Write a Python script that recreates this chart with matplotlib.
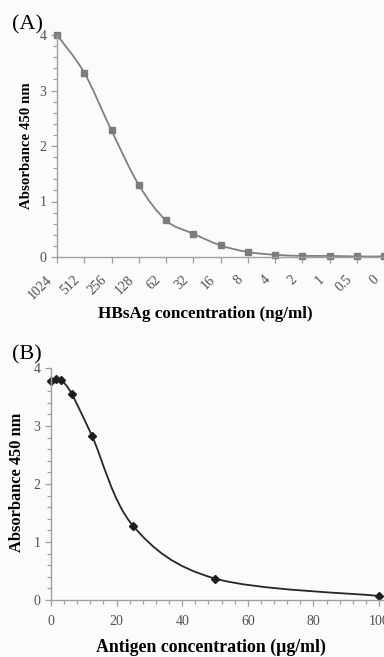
import numpy as np
import matplotlib
matplotlib.use("Agg")
import matplotlib.pyplot as plt
from matplotlib.path import Path
from matplotlib.patches import PathPatch
from matplotlib.ticker import MultipleLocator, FixedLocator
from matplotlib.transforms import ScaledTranslation

# Panel A: HBsAg dilution series (categorical x axis)
hbsag_labels = ["1024", "512", "256", "128", "62", "32", "16", "8", "4", "2", "1", "0.5", "0"]
hbsag_abs = [4.00, 3.32, 2.28, 1.30, 0.66, 0.42, 0.21, 0.09, 0.04, 0.02, 0.02, 0.01, 0.01]

# Panel B: antigen competition curve
antigen_conc = [0, 1.56, 3.125, 6.25, 12.5, 25, 50, 100]
antigen_abs = [3.78, 3.81, 3.79, 3.56, 2.83, 1.28, 0.37, 0.07]

plt.rcParams["font.family"] = ["Liberation Serif", "DejaVu Serif"]

W, H = 384, 657
fig = plt.figure(figsize=(W / 100, H / 100), dpi=100)
fig.patch.set_facecolor("#fbfbfb")

TICK_GREY = "#a0a0a0"
LABEL_GREY = "#505050"


def smooth_path(x, y):
    """Cubic Bezier path through all points (cardinal spline, Excel-style)."""
    pts = np.column_stack([x, y]).astype(float)
    n = len(pts)
    verts = [pts[0]]
    codes = [Path.MOVETO]
    for i in range(n - 1):
        p0 = pts[i - 1] if i > 0 else pts[i]
        p1 = pts[i]
        p2 = pts[i + 1]
        p3 = pts[i + 2] if i + 2 < n else pts[i + 1]
        c1 = p1 + (p2 - p0) / 6.0
        c2 = p2 - (p3 - p1) / 6.0
        verts += [c1, c2, p2]
        codes += [Path.CURVE4] * 3
    return Path(verts, codes)


def px_axes(left, top, right, bottom):
    return fig.add_axes([left / W, 1 - bottom / H, (right - left) / W, (bottom - top) / H])


def px_text(x, y, s, **kw):
    return fig.text(x / W, 1 - y / H, s, **kw)


def style_axes(ax):
    ax.set_facecolor("none")
    for s in ("top", "right"):
        ax.spines[s].set_visible(False)
    for s in ("left", "bottom"):
        ax.spines[s].set_color(TICK_GREY)
        ax.spines[s].set_linewidth(1.0)
    ax.tick_params(which="both", color=TICK_GREY, width=0.9, labelcolor=LABEL_GREY,
                   labelsize=10)
    ax.tick_params(which="major", length=4, direction="out")
    ax.tick_params(which="minor", length=3, direction="out")


# ---------- Panel A ----------
axA = px_axes(57, 35, 384, 257)
style_axes(axA)
xa = np.arange(len(hbsag_labels))
axA.add_patch(PathPatch(smooth_path(xa, hbsag_abs), facecolor="none",
                        edgecolor="#808080", linewidth=1.3))
axA.plot(xa, hbsag_abs, linestyle="none", marker="s", markersize=4.8,
         color="#7c7c7c", clip_on=False)
axA.set_xlim(0, len(hbsag_labels) - 1)
axA.set_ylim(0, 4)
axA.yaxis.set_major_locator(MultipleLocator(1))
axA.yaxis.set_minor_locator(MultipleLocator(0.2))
axA.xaxis.set_major_locator(FixedLocator(xa))
axA.set_xticklabels(hbsag_labels, rotation=45, ha="right", va="center",
                    rotation_mode="anchor")
axA.tick_params(axis="x", pad=3)
shift = ScaledTranslation(-0.07, -0.11, fig.dpi_scale_trans)
for lab in axA.get_xticklabels():
    lab.set_transform(lab.get_transform() + shift)

px_text(205, 314, "HBsAg concentration (ng/ml)", fontsize=12.3, fontweight="bold",
        ha="center", va="center")
px_text(27, 146, "Absorbance 450 nm", fontsize=10.7, fontweight="bold",
        rotation=90, ha="center", va="center")
px_text(12, 25, "(A)", fontsize=16, va="center", ha="left")

# ---------- Panel B ----------
axB = px_axes(51, 368, 384, 600)
style_axes(axB)
axB.add_patch(PathPatch(smooth_path(antigen_conc, antigen_abs), facecolor="none",
                        edgecolor="#262626", linewidth=1.3))
axB.plot(antigen_conc, antigen_abs, linestyle="none", marker="D", markersize=4,
         color="#1e1e1e", clip_on=False)
axB.set_xlim(0, 100 * (384 - 51) / (379 - 51))
axB.set_ylim(0, 4)
axB.yaxis.set_major_locator(MultipleLocator(1))
axB.yaxis.set_minor_locator(MultipleLocator(0.2))
axB.xaxis.set_major_locator(MultipleLocator(20))
axB.xaxis.set_minor_locator(MultipleLocator(4))
axB.tick_params(axis="x", pad=7)

px_text(211, 647, "Antigen concentration (\u00b5g/ml)", fontsize=12.8, fontweight="bold",
        ha="center", va="center")
px_text(17, 482, "Absorbance 450 nm", fontsize=11.8, fontweight="bold",
        rotation=90, ha="center", va="center")
px_text(12, 355, "(B)", fontsize=16, va="center", ha="left")

fig.savefig("out.png", dpi=100, facecolor=fig.get_facecolor())
